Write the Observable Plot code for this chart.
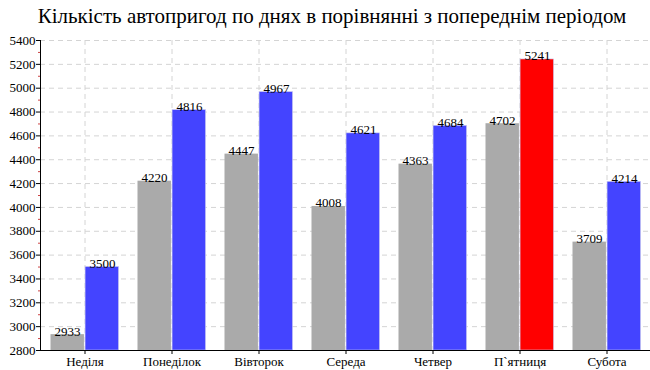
<!DOCTYPE html>
<html>
<head>
<meta charset="utf-8">
<script src="https://cdn.jsdelivr.net/npm/d3@7"></script>
<script src="https://cdn.jsdelivr.net/npm/@observablehq/plot@0.6"></script>
<style>
  html, body { margin: 0; padding: 0; background: #fff; }
  #wrap { width: 650px; height: 370px; position: relative; }
  #title { height: 30px; line-height: 32px; text-align: center; font-size: 21px; color: #000; padding-left: 14px; box-sizing: border-box; white-space: nowrap; font-family: 'Liberation Serif', serif; }
  svg { display: block; }
</style>
</head>
<body>
<div id="wrap">
  <div id="title">Кількість автопригод по днях в порівнянні з попереднім періодом</div>
  <div id="chart"></div>
</div>
<script>
const days = ["Неділя", "Понеділок", "Вівторок", "Середа", "Четвер", "П`ятниця", "Субота"];
const previousPeriod = [2933, 4220, 4447, 4008, 4363, 4702, 3709];
const currentPeriod = [3500, 4816, 4967, 4621, 4684, 5241, 4214];
const yTicks = [2800, 3000, 3200, 3400, 3600, 3800, 4000, 4200, 4400, 4600, 4800, 5000, 5200, 5400];
const yMinorTicks = [2900, 3100, 3300, 3500, 3700, 3900, 4100, 4300, 4500, 4700, 4900, 5100, 5300];

const prevData = days.map((day, i) => ({day, value: previousPeriod[i]}));
const curData = days.map((day, i) => ({day, value: currentPeriod[i]}));
const maxCur = d3.max(currentPeriod);

const W = 650, H = 340;
const mL = 40, mR = 0;
const band = (W - mL - mR) / days.length;
const half = band / 2;
const outer = 9.5;
const barOffset = (half - outer) / 2 + 0.5;

const chart = Plot.plot({
  width: W,
  height: H,
  marginLeft: mL,
  marginRight: mR,
  marginTop: 10,
  marginBottom: 20,
  style: "font-family: 'Liberation Serif', serif; font-size: 13px; color: #000; background: #fff;",
  x: {domain: days, padding: 0, label: null},
  y: {domain: [2800, 5400], label: null},
  marks: [
    Plot.ruleY(yTicks.slice(1), {stroke: "#d4d4d4", strokeDasharray: "5,4", strokeWidth: 1}),
    Plot.ruleX(days, {x: d => d, stroke: "#d4d4d4", strokeDasharray: "5,4", strokeWidth: 1}),
    Plot.barY(prevData, {x: "day", y1: 2800, y2: "value", fill: "#aaaaaa", insetLeft: outer, insetRight: half + 0.5}),
    Plot.barY(curData, {x: "day", y1: 2800, y2: "value", fill: d => d.value === maxCur ? "#ff0000" : "#4444ff", insetLeft: half + 0.5, insetRight: outer, stroke: "#c8c8ee", strokeWidth: 0.6}),
    Plot.text(prevData, {x: "day", y: "value", text: d => String(d.value), dx: -barOffset, lineAnchor: "bottom", dy: 1, fontSize: 13, fill: "#000"}),
    Plot.text(curData, {x: "day", y: "value", text: d => String(d.value), dx: barOffset, lineAnchor: "bottom", dy: 1, fontSize: 13, fill: "#000"}),
    Plot.ruleY([2800], {stroke: "#000", strokeWidth: 1}),
    Plot.axisY(yTicks, {tickSize: 4, tickPadding: 1, fontSize: 13, tickFormat: d => String(d), stroke: "#000"}),
    Plot.axisY(yMinorTicks, {tickSize: 2, text: null, stroke: "#c44"}),
    Plot.axisX(days, {tickSize: 4, tickPadding: 2, fontSize: 13, stroke: "#000", style: {letterSpacing: "1.3px"}}),
    (index, scales, values, dims) => {
      const g = d3.create("svg:g");
      g.append("line")
        .attr("x1", dims.marginLeft + 0.5).attr("x2", dims.marginLeft + 0.5)
        .attr("y1", dims.marginTop).attr("y2", dims.height - dims.marginBottom)
        .attr("stroke", "#000");
      return g.node();
    }
  ]
});
document.getElementById("chart").appendChild(chart);
</script>
</body>
</html>
